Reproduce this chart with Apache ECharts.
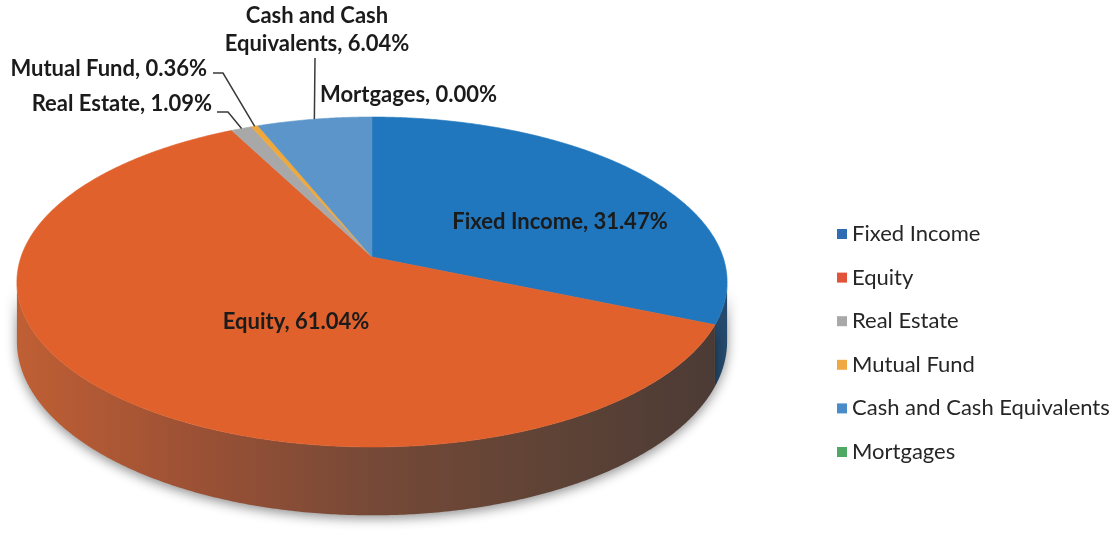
<!DOCTYPE html>
<html>
<head>
<meta charset="utf-8">
<script src="https://cdn.jsdelivr.net/npm/echarts@6/dist/echarts.min.js"></script>
<style>
  html, body { margin: 0; padding: 0; background: #ffffff; }
  #chart { width: 1114px; height: 536px; }
</style>
</head>
<body>
<div id="chart"></div>
<script>
// Asset allocation, percent of total portfolio
const categories = ['Fixed Income', 'Equity', 'Real Estate', 'Mutual Fund', 'Cash and Cash Equivalents', 'Mortgages'];
const shares = [31.47, 61.04, 1.09, 0.36, 6.04, 0.00];
// name part of each data label (the long one wraps onto two lines)
const labelNames = ['Fixed Income', 'Equity', 'Real Estate', 'Mutual Fund', 'Cash and Cash\nEquivalents', 'Mortgages'];

// slice colours
const topColors = ['#2077bd', '#e0612c', '#a8a8a8', '#f1a83a', '#5b95c9', '#5aa55a'];
const legendColors = ['#2e6db3', '#e2543a', '#a8a8a8', '#f0a843', '#4a8bc9', '#4fa864'];
const wallFills = [
  ['#31628d', '#24496c'],
  ['#c05f34', '#9c5135', '#764937', '#5f4336', '#4a3a35'],
  ['#7a7a7a', '#6a6a6a'],
  ['#b07a2a', '#9a6a24'],
  ['#3f6c96', '#355f86'],
  ['#3f7a3f', '#356a35']
];

// tilted pie geometry: centre, radii of the top face, perspective and wall height
const PIE = { cx: 372, cy: 257, rx: 351, ry: 161.2, persp: -0.1515, depth: 58 };

const total = shares.reduce((a, b) => a + b, 0);
const starts = [];
shares.reduce((acc, v) => { starts.push(acc); return acc + v; }, 0);
const sliceData = categories.map((name, i) => ({ name: name, value: [shares[i], starts[i]] }));

const toAngle = p => p / total * Math.PI * 2;

// point on the disc at clockwise angle theta (0 = back), radius fraction r,
// dropped by `drop` wall heights
function project(theta, r, drop) {
  const u = Math.sin(theta) * r;
  const v = -Math.cos(theta) * r;
  const s = 1 / (1 + PIE.persp * v);
  return [PIE.cx + PIE.rx * u * s, PIE.cy + (PIE.ry * v + drop * PIE.depth) * s];
}
function rimPoint(theta, drop) {
  return project(theta, 1, drop);
}

// outer wall is seen between the two silhouette angles
const TH_R = Math.acos(PIE.persp);
const TH_L = Math.PI * 2 - TH_R;

function arc(a0, a1, drop) {
  const n = Math.max(2, Math.ceil((a1 - a0) / 0.008));
  const pts = [];
  for (let k = 0; k <= n; k++) pts.push(rimPoint(a0 + (a1 - a0) * k / n, drop));
  return pts;
}

function gradientX(colors) {
  const stops = colors.map((c, k) => ({ offset: colors.length > 1 ? k / (colors.length - 1) : 0, color: c }));
  return new echarts.graphic.LinearGradient(PIE.cx - PIE.rx - 6, 0, PIE.cx + PIE.rx + 6, 0, stops, true);
}

function renderWall(params, api) {
  const i = params.dataIndex;
  const start = api.value(1), val = api.value(0);
  if (!(val > 0)) return null;
  const a0 = Math.max(toAngle(start), TH_R);
  const a1 = Math.min(toAngle(start + val), TH_L);
  if (a1 <= a0) return null;
  const top = arc(a0, a1, 0);
  const bottom = arc(a0, a1, 1).reverse();
  return {
    type: 'polygon',
    shape: { points: top.concat(bottom) },
    style: {
      fill: gradientX(wallFills[i]),
      shadowBlur: 12,
      shadowColor: 'rgba(0,0,0,0.45)',
      shadowOffsetY: 3
    }
  };
}

function renderTop(params, api) {
  const i = params.dataIndex;
  const start = api.value(1), val = api.value(0);
  if (!(val > 0)) return null;
  const pts = [project(0, 0, 0)].concat(arc(toAngle(start), toAngle(start + val), 0));
  return {
    type: 'polygon',
    shape: { points: pts },
    style: { fill: topColors[i], stroke: topColors[i], lineWidth: 0.6 }
  };
}

// where each data label sits; outside labels get a leader line to the rim
const labelLayout = [
  { x: 560, y: 222, align: 'center' },
  { x: 296, y: 322, align: 'center' },
  { x: 212, y: 104, align: 'right', elbow: [[217, 112], [228, 112]] },
  { x: 207, y: 69, align: 'right', elbow: [[213, 73], [223, 73]] },
  { x: 317, y: 30, align: 'center', elbow: [[315, 58]] },
  { x: 320, y: 95, align: 'left' }
];

function renderLabel(params, api) {
  const i = params.dataIndex;
  const start = api.value(1), val = api.value(0);
  const L = labelLayout[i];
  const children = [{
    type: 'text',
    style: {
      text: labelNames[i] + ', ' + val.toFixed(2) + '%',
      x: L.x, y: L.y,
      fill: '#1b1b1b',
      fontFamily: 'Lato',
      fontWeight: 'bold',
      fontSize: 22,
      lineHeight: 28,
      align: L.align,
      verticalAlign: 'middle'
    }
  }];
  if (L.elbow) {
    const anchor = rimPoint(toAngle(start + val / 2), 0);
    children.push({
      type: 'polyline',
      shape: { points: L.elbow.concat([anchor]) },
      style: { stroke: '#3a3a3a', lineWidth: 1.5, fill: null }
    });
  }
  return { type: 'group', children: children };
}

const chart = echarts.init(document.getElementById('chart'), null, { renderer: 'canvas' });
chart.setOption({
  animation: false,
  backgroundColor: '#ffffff',
  legend: {
    orient: 'vertical',
    left: 832,
    top: 218,
    icon: 'rect',
    itemWidth: 10,
    itemHeight: 10,
    itemGap: 21.6,
    selectedMode: false,
    data: categories,
    textStyle: { fontFamily: 'Lato', fontSize: 22, color: '#262626', lineHeight: 22 }
  },
  series: [
    {
      // legend entries
      type: 'pie',
      radius: [0, 0],
      center: [-50, -50],
      silent: true,
      label: { show: false },
      labelLine: { show: false },
      data: categories.map((name, i) => ({ name: name, value: shares[i], itemStyle: { color: legendColors[i] } }))
    },
    { type: 'custom', name: 'walls', coordinateSystem: 'none', z: 1, silent: true, renderItem: renderWall, data: sliceData },
    { type: 'custom', name: 'tops', coordinateSystem: 'none', z: 2, silent: true, renderItem: renderTop, data: sliceData },
    { type: 'custom', name: 'labels', coordinateSystem: 'none', z: 3, silent: true, renderItem: renderLabel, data: sliceData }
  ]
});
</script>
</body>
</html>
